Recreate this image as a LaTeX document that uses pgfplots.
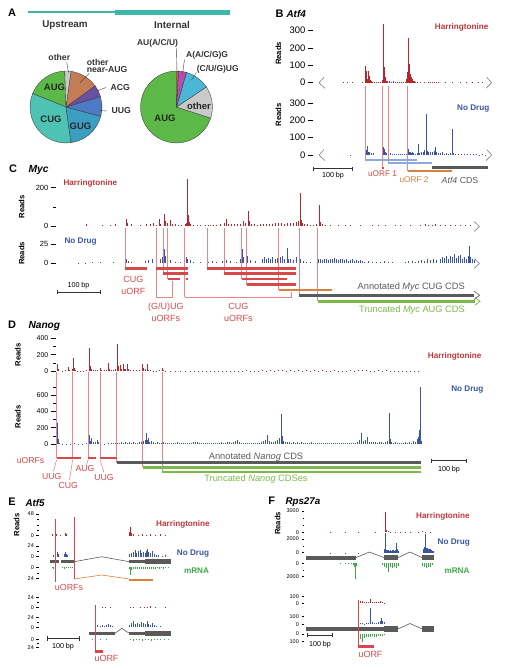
\documentclass[border=0pt]{standalone}
\usepackage{fontspec}
\setmainfont{Liberation Sans}
\usepackage{pgfplots}
\pgfplotsset{compat=1.18}
\usepgfplotslibrary{polar}
\definecolor{harr}{HTML}{B3282D}
\definecolor{harrtxt}{HTML}{C0353A}
\definecolor{nd}{HTML}{3A55A4}
\definecolor{mrna}{HTML}{3DAA48}
\definecolor{guide}{HTML}{E8858A}
\definecolor{uorf}{HTML}{D8474A}
\definecolor{orf2}{HTML}{D9803F}
\definecolor{cds}{HTML}{5A5A5A}
\definecolor{cdsg}{HTML}{7DB84A}
\definecolor{ltblue}{HTML}{8EA8E0}
\definecolor{tealbar}{HTML}{3DB8A8}
\definecolor{pAUG}{HTML}{5CB947}
\definecolor{pCUG}{HTML}{4FC3B3}
\definecolor{pGUG}{HTML}{3C9EC2}
\definecolor{pUUG}{HTML}{4C7AC4}
\definecolor{pACG}{HTML}{6A50A2}
\definecolor{pNear}{HTML}{C47C55}
\definecolor{pOther}{HTML}{C9C9C9}
\definecolor{pAU}{HTML}{D4553A}
\definecolor{pAAG}{HTML}{B24DB4}
\definecolor{pCUU}{HTML}{4AB6D8}
\definecolor{pedge}{HTML}{3A3A3A}
\newcommand{\fz}[1]{\fontsize{#1}{#1}\selectfont}
\newcommand{\hseg}[5]{\addplot[draw=#1,line width=#2,line cap=butt,mark=none] coordinates {(#3,#5)(#4,#5)};}
\newcommand{\vseg}[5]{\addplot[draw=#1,line width=#2,mark=none] coordinates {(#3,#4)(#3,#5)};}
\pgfplotsset{
 track/.style={scale only axis, enlargelimits=false, axis x line=none, axis y line*=left,
   y axis line style={draw=none}, ytick align=outside, ytick pos=left,
   major tick length=5bp, minor tick length=3bp, tick style={black,line width=0.5bp},
   clip=false, ymin=0,
   yticklabel style={font=\fz{7.5}, inner sep=1bp, xshift=-1.5bp},
   /pgf/number format/assume math mode=true, /pgf/number format/1000 sep={}},
 smalltrack/.style={track, major tick length=2.5bp, minor tick length=1.5bp,
   yticklabel style={font=\fz{5.5}}},
 hb/.style={ycomb, draw=harr, line width=0.7bp, mark=none},
 nb/.style={ycomb, draw=nd, line width=0.7bp, mark=none},
 mb/.style={ycomb, draw=mrna, line width=0.7bp, mark=none},
 pie/.style={scale only axis, width=72bp, height=72bp, hide axis, ymin=0, ymax=1, anchor=center, clip=false},
 sec/.style={fill=#1, draw=pedge, line width=0.35bp},
}
\begin{document}
\begin{tikzpicture}
\useasboundingbox (0,0) rectangle (510bp,-669bp);
% ---------- A: pies
\begin{polaraxis}[pie, at={(66bp,-107bp)}]
\addplot[sec=pAUG] coordinates {(0,0)(92,1)(100,1)(110,1)(120,1)(130,1)(140,1)(150,1)(158,1)(0,0)};
\addplot[sec=pCUG] coordinates {(0,0)(158,1)(168,1)(178,1)(188,1)(198,1)(208,1)(218,1)(228,1)(238,1)(248,1)(258,1)(268,1)(278,1)(0,0)};
\addplot[sec=pGUG] coordinates {(0,0)(278,1)(288,1)(298,1)(308,1)(318,1)(328,1)(338,1)(345,1)(0,0)};
\addplot[sec=pUUG] coordinates {(0,0)(-15,1)(-5,1)(5,1)(17,1)(0,0)};
\addplot[sec=pACG] coordinates {(0,0)(17,1)(27,1)(36,1)(0,0)};
\addplot[sec=pNear] coordinates {(0,0)(36,1)(46,1)(56,1)(66,1)(76,1)(82,1)(0,0)};
\addplot[sec=pOther] coordinates {(0,0)(82,1)(87,1)(92,1)(0,0)};
\end{polaraxis}
\begin{polaraxis}[pie, at={(176.5bp,-107bp)}]
\addplot[sec=pAUG] coordinates {(0,0)(90,1)(100,1)(110,1)(120,1)(130,1)(140,1)(150,1)(160,1)(170,1)(180,1)(190,1)(200,1)(210,1)(220,1)(230,1)(240,1)(250,1)(260,1)(270,1)(280,1)(290,1)(300,1)(310,1)(320,1)(330,1)(342,1)(0,0)};
\addplot[sec=pOther] coordinates {(0,0)(-18,1)(-8,1)(2,1)(12,1)(22,1)(34,1)(0,0)};
\addplot[sec=pCUU] coordinates {(0,0)(34,1)(44,1)(54,1)(64,1)(74,1)(0,0)};
\addplot[sec=pAAG] coordinates {(0,0)(74,1)(80,1)(87,1)(0,0)};
\addplot[sec=pAU] coordinates {(0,0)(87,1)(90,1)(0,0)};
\end{polaraxis}
% ---------- B: Atf4
\begin{axis}[track, at={(313bp,-82.7bp)}, anchor=south west, width=180bp, height=60.7bp,
  xmin=313, xmax=493, ymax=350, ytick={0,100,200,300}, yticklabel style={font=\fz{9.5}}]
\addplot[hb] coordinates {(343,2)(347,2)(352,2)(362,3)(365,95)(366,70)(367,20)(368,65)(369,40)(370,15)(371,8)(372,5)(374,5)(376,3)(378,4)(380,6)(382,15)(383,340)(384,90)(385,30)(386,12)(387,8)(389,10)(391,6)(393,12)(395,4)(397,3)(399,5)(401,3)(403,4)(405,6)(406,20)(407,60)(408,255)(409,110)(410,50)(411,30)(412,20)(413,12)(414,8)(415,5)(417,4)(420,3)(424,2)(428,3)(430,4)(432,3)(434,4)(436,3)(438,2)(445,2)(452,2)(460,2)(466,2)(472,2)(478,2)(482,2)};
\end{axis}
\begin{axis}[track, at={(313bp,-155bp)}, anchor=south west, width=180bp, height=60.7bp,
  xmin=313, xmax=493, ymax=350, ytick={0,100,200,300}, yticklabel style={font=\fz{9.5}}]
\addplot[nb] coordinates {(350,2)(365,45)(366,30)(367,50)(368,20)(369,15)(371,10)(373,12)(382,15)(383,48)(384,35)(385,20)(386,12)(388,8)(390,10)(392,6)(394,8)(396,5)(398,6)(400,4)(402,5)(404,5)(406,8)(408,35)(409,20)(410,15)(411,12)(412,18)(413,10)(415,8)(417,10)(418,62)(419,12)(421,15)(423,20)(424,30)(426,235)(427,25)(428,15)(430,20)(432,15)(434,25)(435,48)(436,20)(438,12)(440,10)(442,15)(444,8)(446,12)(448,8)(450,10)(452,150)(453,12)(455,6)(458,5)(461,4)(464,4)(467,3)(470,3)(473,3)(476,3)(479,2)(482,3)(485,2)};
\end{axis}
% ---------- C: Myc
\begin{axis}[track, at={(56bp,-226bp)}, anchor=south west, width=424bp, height=49.8bp,
  xmin=56, xmax=480, ymax=260, ytick={0,200}, minor ytick={100}]
\addplot[hb] coordinates {(86,8)(102,6)(110,4)(115,10)(126,37)(127,15)(131,8)(140,5)(146,8)(150,10)(153,15)(156,5)(159,38)(160,12)(164,63)(165,25)(167,15)(170,30)(172,10)(175,8)(178,6)(181,5)(185,10)(186,15)(187,245)(188,60)(189,20)(190,8)(193,5)(197,4)(200,3)(205,5)(208,6)(210,4)(213,3)(216,5)(220,8)(224,15)(226,35)(228,12)(231,10)(234,8)(237,12)(240,10)(243,26)(245,15)(248,80)(249,25)(251,10)(254,8)(257,6)(260,10)(263,8)(266,12)(269,10)(272,12)(275,15)(278,18)(281,15)(284,12)(287,15)(290,18)(293,15)(296,20)(298,25)(300,174)(301,30)(302,15)(304,10)(307,8)(310,5)(313,6)(316,8)(319,110)(320,20)(322,8)(325,5)(330,4)(338,3)(345,3)(350,4)(360,3)(372,3)(378,4)(385,3)(395,3)(400,3)(410,3)(420,6)(425,8)(428,5)(432,6)(435,8)(440,5)(445,4)(450,3)(455,4)(460,3)(465,4)(470,3)};
\end{axis}
\begin{axis}[track, at={(56bp,-263.3bp)}, anchor=south west, width=424bp, height=23.2bp,
  xmin=56, xmax=480, ymax=30, ytick={0,25}]
\addplot[nb] coordinates {(78,1)(85,1)(92,2)(100,2)(113,2)(126,6)(128,3)(131,2)(145,3)(148,4)(152,5)(156,3)(160,6)(162,8)(164,18)(165,10)(167,5)(170,4)(175,2)(180,2)(186,8)(187,6)(190,4)(193,2)(200,2)(208,2)(212,3)(216,2)(222,3)(226,4)(230,3)(236,2)(240,5)(242,18)(243,8)(246,16)(247,10)(250,4)(255,3)(262,6)(264,8)(266,6)(268,7)(270,5)(272,8)(275,6)(277,7)(280,8)(282,10)(284,5)(287,20)(288,6)(290,5)(293,4)(296,8)(299,13)(300,6)(303,3)(306,2)(310,2)(318,5)(320,6)(322,4)(324,5)(326,6)(328,4)(330,5)(332,6)(334,7)(336,5)(338,4)(340,6)(342,5)(344,4)(346,5)(348,3)(350,4)(352,5)(354,3)(356,4)(358,3)(360,4)(362,3)(364,2)(368,3)(372,2)(376,2)(380,2)(384,3)(388,2)(392,2)(405,2)(408,3)(412,3)(415,2)(418,3)(421,4)(424,3)(427,5)(430,4)(433,5)(436,4)(440,6)(442,8)(444,7)(446,9)(448,6)(450,10)(452,8)(454,12)(456,7)(458,9)(460,11)(462,6)(464,8)(466,5)(468,10)(469,22)(470,8)(472,5)(474,4)};
\end{axis}
% ---------- D: Nanog
\begin{axis}[track, at={(56bp,-371bp)}, anchor=south west, width=369bp, height=34.2bp,
  xmin=56, xmax=425, ymax=420, ytick={0,200,400}, minor ytick={100,300}, yticklabel style={font=\fz{7}}]
\addplot[hb, line width=0.9bp] coordinates {(57,86)(58,20)(62,5)(65,8)(68,53)(69,15)(72,20)(73,164)(74,40)(75,15)(77,5)(80,4)(83,6)(86,8)(89,286)(90,60)(91,20)(93,10)(95,15)(97,10)(100,33)(101,10)(104,8)(106,12)(108,94)(109,20)(111,12)(113,15)(115,20)(117,327)(118,60)(120,74)(121,30)(123,82)(124,25)(125,20)(127,82)(128,25)(130,15)(133,10)(136,8)(139,10)(142,82)(143,40)(145,20)(147,82)(148,15)(150,8)(153,6)(156,5)(159,10)(162,40)(163,15)(165,5)(170,4)(175,3)(180,3)(185,3)(190,3)(194,4)(198,2)(202,3)(206,5)(210,3)(214,4)(218,6)(222,3)(226,5)(230,4)(234,6)(238,3)(242,5)(246,7)(250,4)(254,6)(258,5)(262,8)(266,6)(270,9)(274,5)(278,7)(282,10)(286,6)(290,8)(294,5)(298,7)(302,6)(306,9)(310,5)(314,7)(318,6)(322,8)(326,5)(330,6)(334,7)(338,4)(342,6)(346,5)(350,7)(354,6)(358,10)(362,7)(366,9)(370,5)(374,6)(378,8)(382,5)(386,7)(390,6)(394,5)(398,6)(402,4)(406,5)(410,4)(414,3)(418,4)};
\end{axis}
\begin{axis}[track, at={(56bp,-444bp)}, anchor=south west, width=369bp, height=58.7bp,
  xmin=56, xmax=425, ymax=720, ytick={0,200,400,600}, minor ytick={100,300,500,700}, yticklabel style={font=\fz{7}}]
\addplot[nb, line width=0.9bp] coordinates {(57,253)(58,60)(59,15)(62,5)(66,4)(70,6)(74,8)(78,5)(82,4)(86,10)(88,25)(89,110)(90,40)(91,69)(93,30)(95,20)(97,55)(98,25)(100,8)(104,6)(108,10)(111,12)(113,15)(115,10)(117,18)(119,12)(121,20)(123,15)(125,22)(127,15)(129,25)(131,12)(133,20)(135,12)(137,18)(139,30)(141,20)(143,35)(145,50)(146,131)(147,55)(148,75)(149,25)(151,35)(153,20)(155,15)(157,22)(159,12)(161,15)(163,20)(165,10)(167,12)(169,8)(171,10)(173,15)(175,12)(177,20)(179,15)(181,18)(183,12)(185,10)(187,15)(189,18)(191,12)(193,20)(195,30)(197,22)(199,15)(201,12)(203,10)(205,15)(207,18)(209,12)(211,10)(213,15)(215,12)(217,18)(219,15)(221,20)(223,18)(225,15)(227,25)(229,20)(231,18)(233,28)(235,35)(237,55)(239,20)(241,18)(243,15)(245,12)(247,15)(249,10)(251,12)(253,15)(255,10)(257,12)(259,18)(261,22)(263,40)(265,55)(267,110)(269,35)(271,25)(273,22)(275,40)(277,50)(279,70)(281,368)(282,100)(283,40)(285,25)(287,20)(289,30)(291,15)(293,22)(295,18)(297,25)(299,15)(301,20)(303,15)(305,12)(307,18)(309,15)(311,20)(313,12)(315,15)(317,18)(319,12)(321,15)(323,10)(325,12)(327,15)(329,10)(331,12)(333,15)(335,10)(337,12)(339,8)(341,10)(343,12)(345,8)(347,10)(349,8)(351,10)(353,12)(355,15)(357,20)(359,45)(361,131)(363,35)(365,45)(367,92)(369,25)(371,30)(373,25)(375,20)(377,15)(379,22)(381,25)(383,18)(385,30)(387,40)(389,384)(390,60)(391,25)(393,15)(395,20)(397,12)(399,15)(401,18)(403,12)(405,22)(407,18)(409,25)(411,15)(413,40)(415,30)(417,60)(418,80)(419,172)(420,694)(421,40)};
\end{axis}
% ---------- E: Atf5
\begin{axis}[smalltrack, at={(39bp,-535.7bp)}, anchor=south west, width=136bp, height=22.6bp,
  xmin=39, xmax=175, ymax=50, ytick={0,48}, minor ytick={12,24,36}]
\addplot[hb] coordinates {(52,3)(55,10)(56,4)(60,2)(65,5)(66,3)(74,4)(129,8)(130,19)(131,6)(133,3)(138,2)(142,3)(146,2)(150,3)(155,2)(160,3)(165,2)};
\end{axis}
\begin{axis}[smalltrack, at={(39bp,-556.7bp)}, anchor=south west, width=136bp, height=11.6bp,
  xmin=39, xmax=175, ymax=26, ytick={0,24}, minor ytick={12}]
\addplot[nb] coordinates {(53,3)(55,8)(57,10)(58,5)(64,6)(65,10)(66,7)(67,3)(129,5)(131,8)(133,10)(135,14)(136,8)(138,12)(140,15)(141,9)(143,11)(145,8)(146,13)(147,17)(148,10)(150,8)(152,12)(154,6)(156,4)(158,3)(162,2)(165,3)};
\end{axis}
\begin{axis}[smalltrack, at={(39bp,-567.3bp)}, anchor=north west, y dir=reverse, width=136bp, height=11.9bp,
  xmin=39, xmax=175, ymax=26, ytick={0,24}, minor ytick={12}]
\addplot[mb] coordinates {(52,2)(53,3)(62,2)(64,3)(66,2)(68,2)(70,2)(72,1)(129,4)(130,16)(131,5)(133,3)(135,4)(137,3)(139,4)(141,3)(143,3)(145,4)(147,3)(149,3)(151,4)(153,3)(155,3)(157,2)(159,3)(161,2)(163,3)(165,2)(168,2)};
\end{axis}
\begin{axis}[smalltrack, at={(39bp,-607.7bp)}, anchor=south west, width=136bp, height=10.8bp,
  xmin=39, xmax=175, ymax=26, ytick={0,24}, minor ytick={12}]
\addplot[hb] coordinates {(95,2)(102,1)(105,2)(110,2)(130,2)(133,1)(140,2)(144,2)(147,2)(150,3)(155,2)(165,2)};
\end{axis}
\begin{axis}[smalltrack, at={(39bp,-627.3bp)}, anchor=south west, width=136bp, height=10.8bp,
  xmin=39, xmax=175, ymax=26, ytick={0,24}, minor ytick={12}]
\addplot[nb] coordinates {(95,3)(97,5)(100,4)(102,5)(104,3)(106,6)(108,8)(110,5)(112,4)(129,6)(131,10)(133,14)(135,9)(137,11)(139,8)(141,12)(143,10)(145,7)(147,16)(148,9)(150,6)(152,10)(154,5)(156,3)(160,2)};
\end{axis}
\begin{axis}[smalltrack, at={(39bp,-639.3bp)}, anchor=north west, y dir=reverse, width=136bp, height=8.7bp,
  xmin=39, xmax=175, ymax=26, ytick={0,24}, minor ytick={12}]
\addplot[mb] coordinates {(92,2)(95,3)(100,2)(106,2)(130,3)(133,4)(136,3)(139,3)(142,4)(145,3)(148,3)(151,4)(154,3)(157,3)(160,2)(164,3)(168,2)};
\end{axis}
% ---------- F: Rps27a
\begin{axis}[smalltrack, at={(304bp,-532.3bp)}, anchor=south west, width=136bp, height=22bp,
  xmin=304, xmax=440, ymax=3100, ytick={0,3000}, minor ytick={1000,2000}]
\addplot[hb] coordinates {(330,15)(345,15)(358,15)(375,20)(385,2900)(386,300)(388,150)(390,80)(395,60)(400,50)(405,40)(410,30)(418,40)(422,120)(425,60)(430,40)};
\end{axis}
\begin{axis}[smalltrack, at={(304bp,-552.7bp)}, anchor=south west, width=136bp, height=19.9bp,
  xmin=304, xmax=440, ymax=2900, ytick={0,2000}, minor ytick={1000}]
\addplot[nb] coordinates {(330,20)(345,20)(358,25)(384,500)(385,2830)(386,450)(387,350)(388,400)(389,300)(390,380)(391,300)(392,420)(393,350)(394,300)(395,450)(396,1370)(397,500)(398,300)(423,600)(424,800)(425,2680)(426,700)(427,650)(428,600)(429,500)(430,550)(431,400)(432,300)(433,200)};
\end{axis}
\begin{axis}[smalltrack, at={(304bp,-563.3bp)}, anchor=north west, y dir=reverse, width=136bp, height=17.4bp,
  xmin=304, xmax=440, ymax=2600, ytick={0,2000}, minor ytick={1000}]
\addplot[mb] coordinates {(340,50)(345,80)(348,100)(351,150)(353,300)(354,600)(355,2400)(356,400)(382,300)(384,500)(386,700)(388,1250)(390,600)(392,700)(394,500)(396,650)(398,400)(422,400)(424,600)(426,700)(428,500)(430,600)(432,300)};
\end{axis}
\begin{axis}[smalltrack, at={(304bp,-603.3bp)}, anchor=south west, width=136bp, height=7.3bp,
  xmin=304, xmax=440, ymax=110, ytick={0,100}]
\addplot[hb] coordinates {(358,5)(360,35)(362,30)(364,20)(366,25)(368,15)(370,60)(372,20)(374,25)(376,15)(378,20)(380,35)(382,15)(384,10)};
\end{axis}
\begin{axis}[smalltrack, at={(304bp,-624.3bp)}, anchor=south west, width=136bp, height=16.7bp,
  xmin=304, xmax=440, ymax=220, ytick={0,100}]
\addplot[nb] coordinates {(358,10)(360,15)(362,20)(364,10)(366,15)(368,12)(370,210)(372,25)(374,15)(376,20)(378,30)(380,45)(381,80)(382,40)(384,30)};
\end{axis}
\begin{axis}[smalltrack, at={(304bp,-634bp)}, anchor=north west, y dir=reverse, width=136bp, height=10bp,
  xmin=304, xmax=440, ymax=130, ytick={0,100}]
\addplot[mb] coordinates {(358,40)(360,60)(362,100)(364,50)(366,40)(368,35)(370,45)(372,30)(374,40)(376,35)(378,30)(380,25)(382,20)(384,15)};
\end{axis}
% ---------- overlay: annotations in pixel coordinates
\begin{axis}[at={(0,0)}, anchor=north west, scale only axis, width=510bp, height=669bp,
  xmin=0, xmax=510, ymin=0, ymax=669, y dir=reverse, hide axis, clip=false,
  every node/.append style={inner sep=0pt}]
% A
\node[font=\fz{11}\bfseries] at (axis cs:12,13) {A};
\hseg{tealbar}{1.3bp}{28}{115}{12}
\hseg{tealbar}{5bp}{115}{230}{12}
\node[font=\fz{9.9}\bfseries, text=black!80] at (axis cs:65,25) {Upstream};
\node[font=\fz{9.9}\bfseries, text=black!80] at (axis cs:172,25) {Internal};
\addplot[pedge, line width=0.4bp] coordinates {(66.7,62)(68.5,72.5)};
\addplot[pedge, line width=0.4bp] coordinates {(89,73.5)(80,82.7)};
\addplot[pedge, line width=0.4bp] coordinates {(106,87.5)(97,91)};
\addplot[pedge, line width=0.4bp] coordinates {(107,111)(100,110.5)};
\addplot[pedge, line width=0.4bp] coordinates {(176.5,47.5)(177,72)};
\addplot[pedge, line width=0.4bp] coordinates {(184.5,59.5)(182.5,74)};
\addplot[pedge, line width=0.4bp] coordinates {(196.5,72.5)(191.5,80)};
\node[font=\fz{8.7}\bfseries, text=black!80] at (axis cs:59.3,57.3) {other};
\node[font=\fz{8.7}\bfseries, text=black!80, anchor=west] at (axis cs:83.3,62.3) {other};
\node[font=\fz{8.7}\bfseries, text=black!80, anchor=west] at (axis cs:83.3,69.6) {near-AUG};
\node[font=\fz{8.7}\bfseries, text=black!80, anchor=west] at (axis cs:107,87.3) {ACG};
\node[font=\fz{8.7}\bfseries, text=black!80, anchor=west] at (axis cs:108,111) {UUG};
\node[font=\fz{9.5}\bfseries, text=black!85] at (axis cs:54.5,87.3) {AUG};
\node[font=\fz{9.5}\bfseries, text=black!85] at (axis cs:51,119) {CUG};
\node[font=\fz{9.5}\bfseries, text=black!85] at (axis cs:80.5,126) {GUG};
\node[font=\fz{8.5}\bfseries, text=black!80] at (axis cs:157.5,43.3) {AU(A/C/U)};
\node[font=\fz{8.5}\bfseries, text=black!80, anchor=west] at (axis cs:182.7,55) {A(A/C/G)G};
\node[font=\fz{8.5}\bfseries, text=black!80, anchor=west] at (axis cs:193.3,69.3) {(C/U/G)UG};
\node[font=\fz{9.5}\bfseries, text=black!85] at (axis cs:199,105.7) {other};
\node[font=\fz{9.5}\bfseries, text=black!85] at (axis cs:165,118.3) {AUG};
% B
\node[font=\fz{11}\bfseries, anchor=west] at (axis cs:272,13.3) {B};
\node[font=\fz{10}\bfseries\itshape, anchor=west] at (axis cs:283,13.8) {Atf4};
\node[font=\fz{7.7}\bfseries, rotate=90] at (axis cs:278.3,53.3) {Reads};
\node[font=\fz{7.7}\bfseries, rotate=90] at (axis cs:278.3,115) {Reads};
\node[font=\fz{8.2}\bfseries, text=harrtxt] at (axis cs:461.7,27.3) {Harringtonine};
\node[font=\fz{8.2}\bfseries, text=nd] at (axis cs:473.3,108.3) {No Drug};
\addplot[gray, line width=0.6bp] coordinates {(324,77.3)(319,82.7)(325,88.3)};
\addplot[gray, line width=0.6bp] coordinates {(486.7,77.3)(491.7,82.7)(486,88.3)};
\addplot[gray, line width=0.6bp] coordinates {(324,149.6)(319,155)(325,160.6)};
\addplot[gray, line width=0.6bp] coordinates {(486.7,149.6)(491.7,155)(486,160.6)};
\vseg{guide}{0.8bp}{365}{86}{160}
\vseg{guide}{0.8bp}{382.7}{86}{168.3}
\vseg{guide}{0.8bp}{388}{86}{162.7}
\vseg{guide}{0.8bp}{407.7}{86}{171}
\hseg{ltblue}{1.6bp}{365}{416.7}{160}
\hseg{ltblue}{1.6bp}{388}{432}{162.7}
\hseg{uorf}{2.2bp}{381.5}{384}{168.3}
\hseg{cds}{3bp}{432}{488}{167.7}
\hseg{orf2}{2.6bp}{407.7}{452.3}{171}
\node[font=\fz{8.3}, text=uorf] at (axis cs:382.5,173.5) {uORF 1};
\node[font=\fz{8.3}, text=orf2] at (axis cs:414,180) {uORF 2};
\node[font=\fz{8.8}, text=cds] at (axis cs:460,180) {\textit{Atf4} CDS};
\addplot[black!80, line width=0.7bp] coordinates {(313.3,168.7)(352.3,168.7)};
\addplot[black!80, line width=0.7bp] coordinates {(313.3,166.5)(313.3,171)};
\addplot[black!80, line width=0.7bp] coordinates {(352.3,166.5)(352.3,171)};
\node[font=\fz{7.2}] at (axis cs:333,176) {100 bp};
% C
\node[font=\fz{11}\bfseries] at (axis cs:13,169) {C};
\node[font=\fz{10.3}\bfseries\itshape, anchor=west] at (axis cs:25,170) {Myc};
\node[font=\fz{7.7}\bfseries, rotate=90] at (axis cs:21.7,207) {Reads};
\node[font=\fz{7.7}\bfseries, rotate=90] at (axis cs:21.7,253.3) {Reads};
\node[font=\fz{8.2}\bfseries, text=harrtxt, anchor=west] at (axis cs:60,183) {Harringtonine};
\node[font=\fz{8.2}\bfseries, text=nd, anchor=west] at (axis cs:61,242) {No Drug};
\addplot[gray, line width=0.6bp] coordinates {(474,221.5)(479.5,226.5)(474,231.5)};
\addplot[gray, line width=0.6bp] coordinates {(474,258.5)(479.5,263.5)(474,268.5)};
\vseg{guide}{0.8bp}{125.7}{228}{268.5}
\vseg{guide}{0.8bp}{156}{228}{297.3}
\vseg{guide}{0.8bp}{163.3}{228}{273.5}
\vseg{guide}{0.8bp}{167.7}{228}{279}
\vseg{guide}{0.8bp}{184.5}{228}{297.3}
\vseg{guide}{0.8bp}{207.3}{228}{268.5}
\vseg{guide}{0.8bp}{224.3}{228}{273.5}
\vseg{guide}{0.8bp}{241.7}{228}{279}
\vseg{guide}{0.8bp}{246.7}{228}{284.5}
\vseg{guide}{0.8bp}{278.7}{228}{290}
\vseg{guide}{0.8bp}{299}{228}{295.3}
\vseg{guide}{0.8bp}{317.7}{228}{301.3}
\addplot[guide, line width=0.8bp] coordinates {(156,297.3)(172.7,297.3)(172.7,281)};
\addplot[guide, line width=0.8bp] coordinates {(184.5,297.3)(291.7,297.3)(291.7,291.7)};
\hseg{uorf}{2.3bp}{125}{146.7}{268.5}
\hseg{uorf}{2.3bp}{156}{187.7}{268.5}
\hseg{uorf}{2.3bp}{207.3}{296}{268.5}
\hseg{uorf}{2.3bp}{163.3}{187.7}{273.5}
\hseg{uorf}{2.3bp}{224.3}{296}{273.5}
\hseg{uorf}{2.3bp}{167.7}{180}{279}
\hseg{uorf}{2.3bp}{186}{188}{279}
\hseg{uorf}{2.3bp}{241.7}{286.7}{279}
\hseg{uorf}{2.3bp}{246.7}{296}{284.5}
\hseg{orf2}{2.3bp}{278.7}{332.3}{290}
\hseg{cds}{2.5bp}{299}{474}{295.3}
\hseg{cdsg}{2.5bp}{317.7}{475}{301.3}
\addplot[cds, line width=0.6bp] coordinates {(474,291)(479.5,295.3)(474,299.5)};
\addplot[cdsg, line width=0.8bp] coordinates {(475,297.5)(480,301.3)(475,305)};
\node[font=\fz{9}, text=uorf] at (axis cs:133.3,279.3) {CUG};
\node[font=\fz{9}, text=uorf] at (axis cs:133.3,291.7) {uORF};
\node[font=\fz{9}, text=uorf] at (axis cs:165.8,306.7) {(G/U)UG};
\node[font=\fz{9}, text=uorf] at (axis cs:165.8,318.3) {uORFs};
\node[font=\fz{9}, text=uorf] at (axis cs:238.3,306.7) {CUG};
\node[font=\fz{9}, text=uorf] at (axis cs:238.3,318.3) {uORFs};
\node[font=\fz{9.3}, text=cds, anchor=east] at (axis cs:468.3,286.7) {Annotated \textit{Myc} CUG CDS};
\node[font=\fz{9.3}, text=cdsg, anchor=east] at (axis cs:468.3,310) {Truncated \textit{Myc} AUG CDS};
\addplot[black!80, line width=0.7bp] coordinates {(57.7,292)(100,292)};
\addplot[black!80, line width=0.7bp] coordinates {(57.7,289.8)(57.7,294.2)};
\addplot[black!80, line width=0.7bp] coordinates {(100,289.8)(100,294.2)};
\node[font=\fz{7.2}] at (axis cs:78.5,285.3) {100 bp};
% D
\node[font=\fz{11}\bfseries] at (axis cs:12,325) {D};
\node[font=\fz{10.2}\bfseries\itshape, anchor=west] at (axis cs:25,326.3) {Nanog};
\node[font=\fz{7.7}\bfseries, rotate=90] at (axis cs:18,355) {Reads};
\node[font=\fz{7.7}\bfseries, rotate=90] at (axis cs:18,416.7) {Reads};
\node[font=\fz{8.2}\bfseries, text=harrtxt, anchor=east] at (axis cs:485,356.7) {Harringtonine};
\node[font=\fz{8.2}\bfseries, text=nd, anchor=east] at (axis cs:487,390) {No Drug};
\vseg{guide}{0.8bp}{56.7}{372}{458.3}
\vseg{guide}{0.8bp}{72.7}{372}{458.3}
\vseg{guide}{0.8bp}{88.3}{372}{458.3}
\vseg{guide}{0.8bp}{100}{372}{458.3}
\vseg{guide}{0.8bp}{116.7}{372}{462.7}
\vseg{guide}{0.8bp}{142.7}{372}{467.3}
\vseg{guide}{0.8bp}{162.3}{372}{472}
\hseg{uorf}{2.2bp}{56.7}{81}{458.3}
\hseg{uorf}{2.2bp}{88.3}{95.7}{458.3}
\hseg{uorf}{2.2bp}{100}{116.7}{458.3}
\hseg{cds}{2.5bp}{116.7}{420.7}{462.7}
\hseg{cdsg}{2.5bp}{142.7}{420.7}{467.3}
\hseg{cdsg}{2.5bp}{162.3}{420.7}{472}
\addplot[guide, line width=0.6bp] coordinates {(56.7,459.5)(53.5,471)};
\addplot[guide, line width=0.6bp] coordinates {(72.7,459.5)(69.5,480)};
\addplot[guide, line width=0.6bp] coordinates {(88.3,459.5)(86.5,464.5)};
\addplot[guide, line width=0.6bp] coordinates {(100,459.5)(104,472.5)};
\node[font=\fz{8.7}, text=uorf] at (axis cs:30.5,460.7) {uORFs};
\node[font=\fz{8.7}, text=uorf] at (axis cs:51.7,476) {UUG};
\node[font=\fz{8.7}, text=uorf] at (axis cs:68.3,485) {CUG};
\node[font=\fz{8.7}, text=uorf] at (axis cs:85,468.7) {AUG};
\node[font=\fz{8.7}, text=uorf] at (axis cs:104,477.3) {UUG};
\node[font=\fz{9.3}, text=cds] at (axis cs:256,456.7) {Annotated \textit{Nanog} CDS};
\node[font=\fz{9.3}, text=cdsg] at (axis cs:256,479) {Truncated \textit{Nanog} CDSes};
\addplot[black!80, line width=0.7bp] coordinates {(431.7,460.7)(466,460.7)};
\addplot[black!80, line width=0.7bp] coordinates {(431.7,458.5)(431.7,462.9)};
\addplot[black!80, line width=0.7bp] coordinates {(466,458.5)(466,462.9)};
\node[font=\fz{7.2}] at (axis cs:449,469.3) {100 bp};
% E
\node[font=\fz{11}\bfseries] at (axis cs:12,502) {E};
\node[font=\fz{9.9}\bfseries\itshape, anchor=west] at (axis cs:22,502.5) {Atf5};
\node[font=\fz{7.7}\bfseries, rotate=90] at (axis cs:16.7,525) {Reads};
\node[font=\fz{8.2}\bfseries, text=harrtxt] at (axis cs:183,524.3) {Harringtonine};
\node[font=\fz{8.2}\bfseries, text=nd] at (axis cs:193,553.3) {No Drug};
\node[font=\fz{8.2}\bfseries, text=mrna] at (axis cs:196.5,570.7) {mRNA};
\hseg{cds}{2.8bp}{50}{59}{561.7}
\hseg{cds}{2.8bp}{61}{74}{561.7}
\addplot[cds, line width=0.6bp] coordinates {(74,561.7)(101.7,556.7)(129.3,561.7)};
\hseg{cds}{2.8bp}{129.3}{145}{561.7}
\hseg{cds}{5.3bp}{145}{170.7}{561.7}
\hseg{orf2}{2.5bp}{129.3}{152.7}{580}
\addplot[orf2, line width=0.6bp] coordinates {(74,579)(101.7,575)(129.3,579)};
\vseg{uorf}{0.8bp}{55.3}{518.5}{582}
\vseg{uorf}{0.8bp}{74}{517.3}{579}
\node[font=\fz{8.9}, text=uorf] at (axis cs:69,587) {uORFs};
\hseg{cds}{2.8bp}{89.3}{115}{633.3}
\addplot[cds, line width=0.6bp] coordinates {(115,633.3)(121.7,628.3)(129.3,633.3)};
\hseg{cds}{2.8bp}{129.3}{145}{633.3}
\hseg{cds}{5.3bp}{145}{170.7}{633.3}
\vseg{uorf}{0.8bp}{95}{605}{651.7}
\hseg{uorf}{2.5bp}{95}{103.3}{651.7}
\node[font=\fz{9}, text=uorf] at (axis cs:106.5,658.3) {uORF};
\addplot[black!80, line width=0.7bp] coordinates {(47.7,638.3)(79,638.3)};
\addplot[black!80, line width=0.7bp] coordinates {(47.7,636.1)(47.7,640.5)};
\addplot[black!80, line width=0.7bp] coordinates {(79,636.1)(79,640.5)};
\node[font=\fz{7.2}] at (axis cs:63,646.7) {100 bp};
% F
\node[font=\fz{11}\bfseries] at (axis cs:271.7,501) {F};
\node[font=\fz{9.8}\bfseries\itshape, anchor=west] at (axis cs:282,502.5) {Rps27a};
\node[font=\fz{7.7}\bfseries, rotate=90] at (axis cs:277.7,523.3) {Reads};
\node[font=\fz{8.2}\bfseries, text=harrtxt] at (axis cs:443,516) {Harringtonine};
\node[font=\fz{8.2}\bfseries, text=nd] at (axis cs:453.8,542.7) {No Drug};
\node[font=\fz{8.2}\bfseries, text=mrna] at (axis cs:457,570.7) {mRNA};
\hseg{cds}{4bp}{306}{355.7}{557.7}
\addplot[cds, line width=0.6bp] coordinates {(355.7,557.7)(369.3,552)(384.3,557.7)};
\hseg{cds}{5.3bp}{384.3}{397.7}{557.7}
\addplot[cds, line width=0.6bp] coordinates {(397.7,557.7)(410,552)(422.3,557.7)};
\hseg{cds}{5.3bp}{422.3}{434}{557.7}
\hseg{cds}{3.5bp}{306}{384.3}{629}
\hseg{cds}{5.3bp}{384.3}{397.7}{629}
\addplot[cds, line width=0.6bp] coordinates {(397.7,629)(410,623.5)(422.3,629)};
\hseg{cds}{5.3bp}{422.3}{434}{629}
\vseg{uorf}{0.8bp}{358.3}{600}{646.7}
\hseg{uorf}{2.5bp}{358.3}{374.3}{646.7}
\node[font=\fz{9}, text=uorf] at (axis cs:370.5,654) {uORF};
\addplot[black!80, line width=0.7bp] coordinates {(307.3,635)(332.7,635)};
\addplot[black!80, line width=0.7bp] coordinates {(307.3,632.8)(307.3,637.2)};
\addplot[black!80, line width=0.7bp] coordinates {(332.7,632.8)(332.7,637.2)};
\node[font=\fz{7.2}] at (axis cs:320,644.7) {100 bp};
\end{axis}
\end{tikzpicture}
\end{document}
